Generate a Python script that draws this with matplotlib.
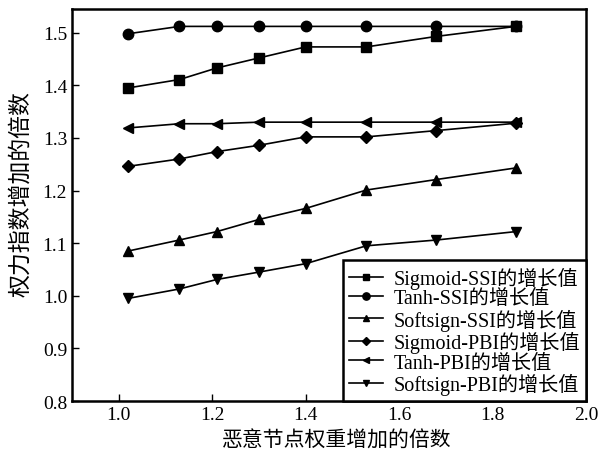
import matplotlib
matplotlib.use("Agg")
import matplotlib.pyplot as plt

plt.rcParams['font.family'] = ['Liberation Serif', 'Noto Sans CJK SC']
plt.rcParams['mathtext.fontset'] = 'stix'

# Malicious-node weight multiplier (x) and power-index growth multiplier (y)
weight_factor = [1.02, 1.13, 1.21, 1.30, 1.40, 1.53, 1.68, 1.85]

sigmoid_ssi = [1.395, 1.411, 1.433, 1.452, 1.473, 1.473, 1.493, 1.512]
tanh_ssi = [1.498, 1.512, 1.512, 1.512, 1.512, 1.512, 1.512, 1.512]
softsign_ssi = [1.085, 1.106, 1.122, 1.145, 1.166, 1.201, 1.221, 1.243]
sigmoid_pbi = [1.246, 1.260, 1.274, 1.286, 1.302, 1.302, 1.314, 1.328]
tanh_pbi = [1.319, 1.327, 1.327, 1.330, 1.330, 1.330, 1.330, 1.330]
softsign_pbi = [0.995, 1.013, 1.031, 1.045, 1.061, 1.095, 1.106, 1.122]

series_labels = [
    'Sigmoid-SSI的增长值',
    'Tanh-SSI的增长值',
    'Softsign-SSI的增长值',
    'Sigmoid-PBI的增长值',
    'Tanh-PBI的增长值',
    'Softsign-PBI的增长值',
]
x_ticks = [1.0, 1.2, 1.4, 1.6, 1.8, 2.0]
y_ticks = [0.8, 0.9, 1.0, 1.1, 1.2, 1.3, 1.4, 1.5]

series = [sigmoid_ssi, tanh_ssi, softsign_ssi, sigmoid_pbi, tanh_pbi, softsign_pbi]
markers = ['s', 'o', '^', 'D', '<', 'v']
marker_sizes = [6.5, 7.5, 7, 6, 7, 7]

fig = plt.figure(figsize=(6.07, 4.56), dpi=100)
ax = fig.add_axes([0.1186, 0.1184, 0.8468, 0.8596])

for ys, m, ms, lab in zip(series, markers, marker_sizes, series_labels):
    ax.plot(weight_factor, ys, color='black', linewidth=1.2, marker=m,
            markersize=ms, markerfacecolor='black', markeredgecolor='black',
            label=lab)

ax.set_xlim(0.9, 2.0)
ax.set_ylim(0.8, 1.545)
ax.set_xticks(x_ticks)
ax.set_xticklabels([f'{v:.1f}' for v in x_ticks])
ax.set_yticks(y_ticks)
ax.set_yticklabels([f'{v:.1f}' for v in y_ticks])
ax.tick_params(direction='in', length=5, width=1, labelsize=14, colors='black',
               top=False, right=False)
for sp in ax.spines.values():
    sp.set_linewidth(1.8)
    sp.set_color('black')

ax.set_xlabel('恶意节点权重增加的倍数', fontsize=15)
ax.set_ylabel('权力指数增加的倍数', fontsize=16.5)
ax.yaxis.set_label_coords(-0.078, 0.53)
ax.xaxis.set_label_coords(0.515, -0.076)

leg = ax.legend(loc='lower right', fontsize=14.5, frameon=True, fancybox=False,
                edgecolor='black', borderaxespad=0.0, labelspacing=0.02,
                handlelength=1.7, handletextpad=0.5, borderpad=0.3,
                markerscale=0.7)
leg.get_frame().set_linewidth(1.8)
leg.get_frame().set_alpha(1)

fig.savefig('out.png', dpi=100)
